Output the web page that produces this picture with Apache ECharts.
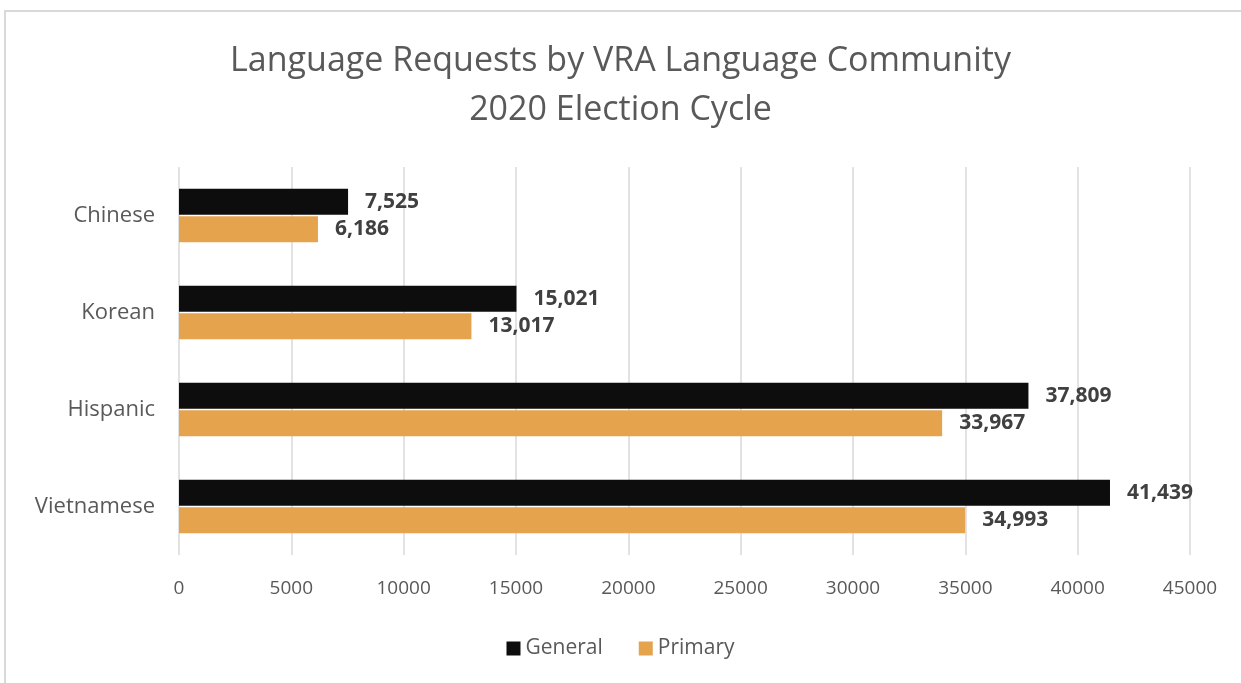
<!DOCTYPE html>
<html>
<head>
<meta charset="utf-8">
<script src="https://cdn.jsdelivr.net/npm/echarts@6/dist/echarts.min.js"></script>
<style>
  html, body { margin: 0; padding: 0; background: #ffffff; }
  #frame { position: absolute; left: 4px; top: 10px; width: 1240px; height: 680px; border: 2px solid #d9d9d9; box-sizing: border-box; }
  #chart { position: absolute; left: 0; top: 0; width: 1241px; height: 683px; }
</style>
</head>
<body>
<div id="frame"></div>
<div id="chart"></div>
<script>
const categories = ["Chinese", "Korean", "Hispanic", "Vietnamese"];
const generalValues = [7525, 15021, 37809, 41439];
const primaryValues = [6186, 13017, 33967, 34993];
const seriesNames = ["General", "Primary"];

const chart = echarts.init(document.getElementById("chart"));
const font = "'Open Sans', sans-serif";

const labelStyle = {
  show: true,
  position: "right",
  distance: 17,
  color: "#404040",
  fontSize: 21,
  fontWeight: "bold",
  fontFamily: font,
  formatter: (p) => p.value.toLocaleString("en-US"),
};

chart.setOption({
  backgroundColor: "transparent",
  animation: false,
  title: {
    text: "Language Requests by VRA Language Community\n2020 Election Cycle",
    left: "center",
    top: 32,
    textStyle: {
      color: "#595959",
      fontSize: 34,
      fontWeight: "normal",
      fontFamily: font,
      lineHeight: 49,
    },
  },
  legend: {
    bottom: 19,
    left: "center",
    itemWidth: 14,
    itemHeight: 14,
    itemGap: 36,
    icon: "rect",
    textStyle: { color: "#595959", fontSize: 21, fontFamily: font },
    data: seriesNames,
  },
  grid: { left: 179, right: 51, top: 167, bottom: 128, containLabel: false },
  xAxis: {
    type: "value",
    min: 0,
    max: 45000,
    interval: 5000,
    axisLine: { show: false },
    axisTick: { show: false },
    splitLine: { lineStyle: { color: "#d9d9d9", width: 1.5 } },
    axisLabel: { color: "#595959", fontSize: 19, fontFamily: font, margin: 24, formatter: (v) => String(v) },
  },
  yAxis: {
    type: "category",
    inverse: true,
    data: categories,
    axisLine: { show: false },
    axisTick: { show: false },
    axisLabel: { color: "#595959", fontSize: 22, fontFamily: font, margin: 24 },
  },
  series: [
    {
      name: seriesNames[0],
      type: "bar",
      data: generalValues,
      barWidth: 26,
      barGap: "6%",
      itemStyle: { color: "#0d0d0d" },
      label: labelStyle,
    },
    {
      name: seriesNames[1],
      type: "bar",
      data: primaryValues,
      barWidth: 26,
      itemStyle: { color: "#e6a34e" },
      label: labelStyle,
    },
  ],
});
</script>
</body>
</html>
